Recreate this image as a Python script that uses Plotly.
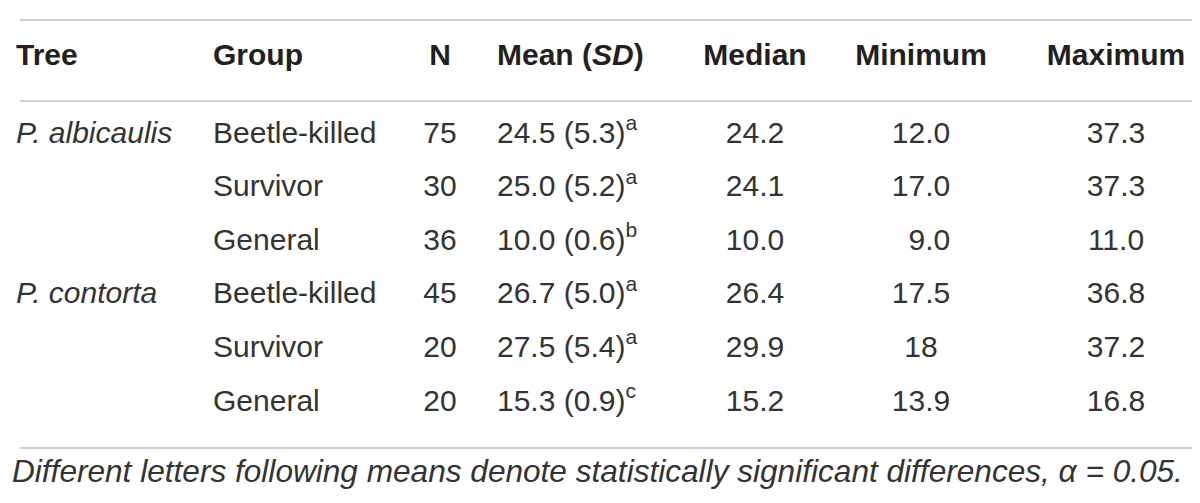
import plotly.graph_objects as go

# table values
trees = ['P. albicaulis', '', '', 'P. contorta', '', '']
groups = ['Beetle-killed', 'Survivor', 'General', 'Beetle-killed', 'Survivor', 'General']
n_trees = [75, 30, 36, 45, 20, 20]
means = [24.5, 25.0, 10.0, 26.7, 27.5, 15.3]
sds = [5.3, 5.2, 0.6, 5.0, 5.4, 0.9]
letters = ['a', 'a', 'b', 'a', 'a', 'c']
medians = [24.2, 24.1, 10.0, 26.4, 29.9, 15.2]
minimums = ['12.0', '17.0', '9.0', '17.5', '18', '13.9']
maximums = [37.3, 37.3, 11.0, 36.8, 37.2, 16.8]
headers = ['Tree', 'Group', 'N', 'Mean (<i>SD</i>)', 'Median', 'Minimum', 'Maximum']
footnote = 'Different letters following means denote statistically significant differences, \u03b1 = 0.05.'

W, H = 1200, 503
head_color = '#231f20'
text_color = '#333333'
rule_color = '#cfcfcf'
NB = '\u00a0'  # table wraps on plain spaces, so keep them out
FIG_SP = '\u2007'  # digit-wide space, lines up "9.0" under "12.0"

# blank superscript so every cell sits on the same line as the Mean cells
ghost = f'<sup>{NB}</sup>'


def left(s):
    return s + ghost if s else s


def mid(s):
    return ghost + s + ghost


def num(s):
    return s.rjust(4, FIG_SP) if '.' in s else s


cells = [
    [left(f'<i>{t}</i>'.replace(' ', NB)) if t else '' for t in trees],
    [left(g) for g in groups],
    [mid(str(v)) for v in n_trees],
    [f'{m:.1f}{NB}({s:.1f})<sup>{l}</sup>' for m, s, l in zip(means, sds, letters)],
    [mid(num(f'{v:.1f}')) for v in medians],
    [mid(num(v)) for v in minimums],
    [mid(num(f'{v:.1f}')) for v in maximums],
]
aligns = ['left', 'left', 'center', 'left', 'center', 'center', 'center']

fig = go.Figure()

fig.add_trace(go.Table(
    domain=dict(x=[0, 1], y=[0, 1 - 22 / H]),
    columnwidth=[197, 186, 98, 203, 126, 206, 184],
    header=dict(
        values=[f'<b>{h}</b>'.replace(' ', NB) for h in headers],
        align=aligns,
        font=dict(family='Liberation Sans', size=30, color=head_color),
        fill_color='white',
        line=dict(color='white', width=0),
        height=73,
    ),
    cells=dict(
        values=cells,
        align=aligns,
        font=dict(family='Liberation Sans', size=30, color=text_color),
        fill_color='white',
        line=dict(color='white', width=0),
        height=53.6,
    ),
))

# the three horizontal rules
for y_px in [12, 93, 440]:
    fig.add_shape(type='line', xref='paper', yref='paper',
                  x0=12 / W, x1=1188 / W, y0=1 - y_px / H, y1=1 - y_px / H,
                  line=dict(color=rule_color, width=2))

fig.add_annotation(
    text=f'<i>{footnote}</i>', xref='paper', yref='paper',
    x=2 / W, y=1 - 463 / H, xanchor='left', yanchor='middle',
    showarrow=False,
    font=dict(family='Liberation Sans', size=31.6, color=text_color),
)

fig.update_layout(
    width=W, height=H,
    margin=dict(l=0, r=0, t=0, b=0),
    paper_bgcolor='white',
    plot_bgcolor='white',
)

fig.write_html('out.html')
